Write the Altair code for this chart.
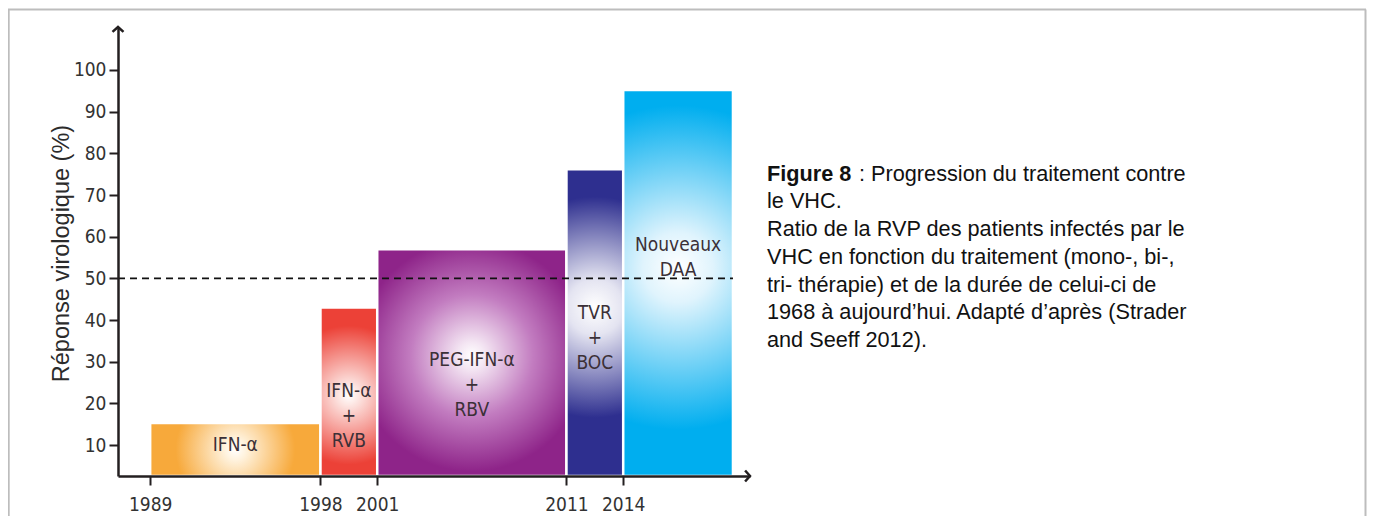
import altair as alt
import pandas as pd

# ---------------- data ----------------
treatments = ["IFN-α", "IFN-α\n+\nRVB", "PEG-IFN-α\n+\nRBV", "TVR\n+\nBOC", "Nouveaux\nDAA"]
start_year = [1989, 1998, 2001, 2011, 2014]
end_year = [1998, 2001, 2011, 2014, 2019.8]
response = [15.3, 43.0, 57.0, 76.2, 95.2]
label_level = [10.0, 23.0, 30.5, 41.6, 58.0]   # vertical anchor of each bar's label (data units)
year_ticks = [1989, 1998, 2001, 2011, 2014]
y_ticks = [10, 20, 30, 40, 50, 60, 70, 80, 90, 100]
threshold = 50
y_title = "Réponse virologique (%)"
caption_bold = "Figure 8"
caption_first = ": Progression du traitement contre"
caption_rest = [
    "le VHC.",
    "Ratio de la RVP des patients infectés par le",
    "VHC en fonction du traitement (mono-, bi-,",
    "tri- thérapie) et de la durée de celui-ci de",
    "1968 à aujourd’hui. Adapté d’après (Strader",
    "and Seeff 2012).",
]

# ---------------- scales / styles ----------------
X_MIN, X_MAX = 1987.3, 2020.7
Y_MIN, Y_MAX = 2.6, 110.3
W, H = 632, 449
AXIS_COL = "#231F20"
NARROW = "Liberation Sans Narrow, Arial Narrow, DejaVu Sans Condensed, sans-serif"
SANS = "Liberation Sans, Arial, sans-serif"

ORANGE, RED, PURPLE, NAVY, CYAN = "#F7A93B", "#EC4137", "#8E2489", "#2E2F8F", "#00AEEF"


def radial(stops, r2, cy=0.5):
    return {
        "gradient": "radial",
        "x1": 0.5, "y1": cy, "r1": 0,
        "x2": 0.5, "y2": cy, "r2": r2,
        "stops": [{"offset": o, "color": c} for o, c in stops],
    }


gradients = [
    radial([(0, "#ffffff"), (0.12, "#fff3df"), (0.7, ORANGE), (1, ORANGE)], 0.5),
    radial([(0, "#ffffff"), (0.1, "#fde8e5"), (0.75, RED), (1, RED)], 0.55, 0.52),
    radial([(0, "#ffffff"), (0.1, "#f4e6f3"), (0.45, "#c27cc0"), (0.85, PURPLE), (1, PURPLE)], 0.6, 0.47),
    radial([(0, "#ffffff"), (0.15, "#e4e4f1"), (0.6, NAVY), (1, NAVY)], 0.6, 0.45),
    radial([(0, "#ffffff"), (0.15, "#e0f4fd"), (0.7, CYAN), (1, CYAN)], 0.6, 0.46),
]

df = pd.DataFrame({
    "idx": list(range(len(treatments))),
    "label": treatments,
    "start": start_year,
    "end": end_year,
    "response": response,
    "level": label_level,
})
one = pd.DataFrame({"a": [0]})

x_scale = alt.Scale(domain=[X_MIN, X_MAX], nice=False, zero=False)
y_scale = alt.Scale(domain=[Y_MIN, Y_MAX], nice=False, zero=False)

x_axis = alt.Axis(
    values=year_ticks, format="d", title=None, grid=False,
    domainColor=AXIS_COL, domainWidth=2.5, tickColor=AXIS_COL, tickWidth=2,
    tickSize=9, labelPadding=10, labelFont=NARROW, labelFontSize=19,
    labelColor="#333333", labelFlush=False, labelOverlap=False, zindex=1,
)
y_axis = alt.Axis(
    values=y_ticks, title=y_title, grid=False,
    domainColor=AXIS_COL, domainWidth=2.5, tickColor=AXIS_COL, tickWidth=2,
    tickSize=9, labelPadding=3, labelFont=NARROW, labelFontSize=19,
    labelColor="#333333", labelOverlap=False, zindex=1,
    titleFont=SANS, titleFontSize=23.5, titleFontWeight="normal", titleColor="#2b2b2b",
    titleAngle=270, titleAlign="center", titleBaseline="alphabetic",
    titleX=-49.5, titleY=226,
)

layers = []

# frame
frame_style = dict(color="#BDBDBD", strokeWidth=2)
layers.append(alt.Chart(one).mark_rule(**frame_style).encode(
    x=alt.value(-110), x2=alt.value(1248), y=alt.value(-17.5)))
layers.append(alt.Chart(one).mark_rule(**frame_style).encode(
    x=alt.value(-109.3), y=alt.value(-17.5), y2=alt.value(500)))
layers.append(alt.Chart(one).mark_rule(**frame_style).encode(
    x=alt.value(1247.5), y=alt.value(-17.5), y2=alt.value(500)))

# bars
for i, g in enumerate(gradients):
    layers.append(
        alt.Chart(df).transform_filter(alt.datum.idx == i)
        .mark_rect(fill=g, stroke="white", strokeWidth=2.5)
        .encode(
            x=alt.X("start:Q", scale=x_scale, axis=x_axis),
            x2="end:Q",
            y=alt.Y("response:Q", scale=y_scale, axis=y_axis),
            y2=alt.datum(Y_MIN),
        )
    )

# dashed 50% line
layers.append(
    alt.Chart(one).mark_rule(color="#111111", strokeWidth=1.6, strokeDash=[7, 5]).encode(
        x=alt.datum(X_MIN), x2=alt.datum(end_year[-1]), y=alt.datum(threshold)
    )
)

# bar labels
layers.append(
    alt.Chart(df).transform_calculate(mid="(datum.start + datum.end) / 2")
    .mark_text(font=NARROW, fontSize=19, color="#3b3037", lineBreak="\n",
               lineHeight=25, align="center", baseline="middle")
    .encode(x=alt.X("mid:Q"), y=alt.Y("level:Q"), text="label:N")
)

# arrow heads
arrow_style = dict(filled=False, stroke=AXIS_COL, strokeWidth=2.5, strokeJoin="miter", size=150, opacity=1)
layers.append(alt.Chart(one).mark_point(shape="M -0.9 0.8 L 0 0 L 0.9 0.8", **arrow_style).encode(
    x=alt.datum(X_MIN), y=alt.datum(Y_MAX)))
layers.append(alt.Chart(one).mark_point(shape="M -0.8 -0.9 L 0 0 L -0.8 0.9", **arrow_style).encode(
    x=alt.datum(X_MAX), y=alt.datum(Y_MIN)))

# caption
CAP_SIZE = 21.7
layers.append(alt.Chart(one).mark_text(font=SANS, fontSize=CAP_SIZE, fontWeight="bold", color="#111111",
                                       align="left", baseline="alphabetic").encode(
    x=alt.value(649), y=alt.value(153.7), text=alt.value(caption_bold)))
layers.append(alt.Chart(one).mark_text(font=SANS, fontSize=CAP_SIZE, color="#111111",
                                       align="left", baseline="alphabetic").encode(
    x=alt.value(741), y=alt.value(153.7), text=alt.value(caption_first)))
layers.append(alt.Chart(one).mark_text(font=SANS, fontSize=CAP_SIZE, color="#111111", lineHeight=27.8,
                                       align="left", baseline="alphabetic").encode(
    x=alt.value(649), y=alt.value(181.3), text=alt.value(caption_rest)))

chart = (
    alt.layer(*layers)
    .properties(
        width=W, height=H,
        padding={"left": 110, "top": 19, "right": 617, "bottom": 40},
        autosize=alt.AutoSizeParams(type="none"),
        background="white",
    )
    .configure_view(stroke=None)
)

chart.save("out.html", embed_options={"renderer": "svg", "actions": False})
